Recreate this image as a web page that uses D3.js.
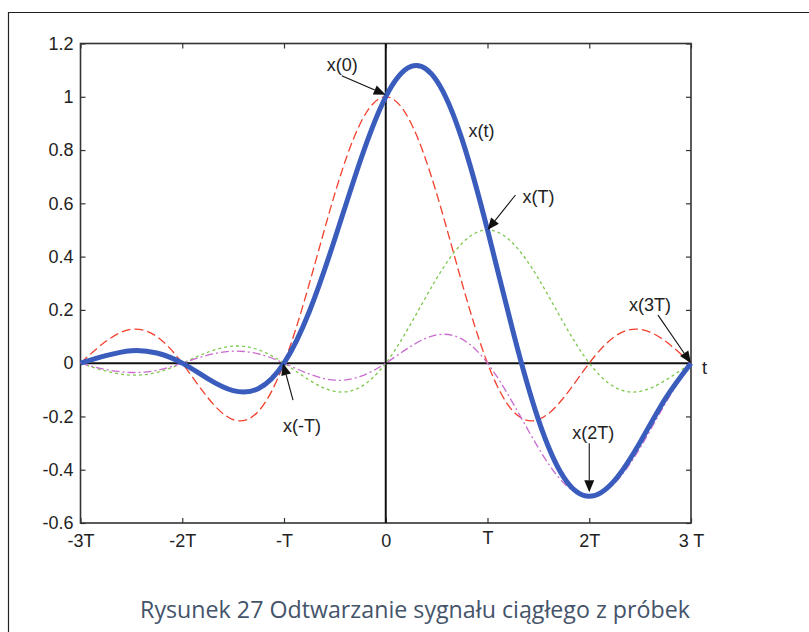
<!DOCTYPE html>
<html>
<head>
<meta charset="utf-8">
<script src="https://cdn.jsdelivr.net/npm/d3@7"></script>
<style>
  body { margin: 0; background: #fff; }
  svg { display: block; }
</style>
</head>
<body>
<div id="chart"></div>
<script>
// sample instants (in units of T) and the curves
var tSamples = [-3, -2.75, -2.5, -2.25, -2, -1.75, -1.5, -1.25, -1, -0.75, -0.5, -0.25, 0,
                0.25, 0.5, 0.75, 1, 1.25, 1.5, 1.75, 2, 2.25, 2.5, 2.75, 3];
// x(0) component, red dashed
var redValues = [0, 0.082, 0.127, 0.100, 0, -0.129, -0.212, -0.180, 0, 0.300, 0.637, 0.900, 1,
                 0.900, 0.637, 0.300, 0, -0.180, -0.212, -0.129, 0, 0.100, 0.127, 0.082, 0];
// x(T) component, green dotted
var greenValues = [0, -0.030, -0.045, -0.035, 0, 0.041, 0.064, 0.050, 0, -0.064, -0.106, -0.090, 0,
                   0.150, 0.318, 0.450, 0.5, 0.450, 0.318, 0.150, 0, -0.090, -0.106, -0.064, 0];
// x(2T) component, purple dash-dot
var purpleValues = [0, -0.024, -0.035, -0.027, 0, 0.030, 0.045, 0.035, 0, -0.041, -0.064, -0.050, 0,
                    0.064, 0.106, 0.090, 0, -0.150, -0.318, -0.450, -0.5, -0.450, -0.318, -0.150, 0];
// reconstructed x(t), thick blue
var blueValues = [0, 0.028, 0.047, 0.038, 0, -0.058, -0.103, -0.095, 0, 0.195, 0.467, 0.760, 1,
                  1.114, 1.061, 0.840, 0.5, 0.120, -0.212, -0.429, -0.5, -0.440, -0.297, -0.132, 0];

var xTicks = [-3, -2, -1, 0, 1, 2, 3];
var xTickLabels = ["-3T", "-2T", "-T", "0", "T", "2T", "3 T"];
var yTicks = [-0.6, -0.4, -0.2, 0, 0.2, 0.4, 0.6, 0.8, 1, 1.2];
var yTickLabels = ["-0.6", "-0.4", "-0.2", "0", "0.2", "0.4", "0.6", "0.8", "1", "1.2"];

var caption = "Rysunek 27 Odtwarzanie sygnału ciągłego z próbek";

var W = 809, H = 632;
var plotLeft = 80.5, plotRight = 691, plotTop = 43.5, plotBottom = 523;
var FONT = "'Liberation Sans', Arial, sans-serif";

var svg = d3.select("#chart").append("svg")
    .attr("width", W)
    .attr("height", H);

// page frame around the figure
svg.append("line").attr("x1", 8).attr("y1", 12.5).attr("x2", W).attr("y2", 12.5)
    .attr("stroke", "#222").attr("stroke-width", 1.2);
svg.append("line").attr("x1", 8.5).attr("y1", 12).attr("x2", 8.5).attr("y2", H)
    .attr("stroke", "#222").attr("stroke-width", 1.2);

var x = d3.scaleLinear().domain([-3, 3]).range([plotLeft, plotRight]);
var y = d3.scaleLinear().domain([-0.6, 1.2]).range([plotBottom, plotTop]);

function styleAxis(g){
    g.select(".domain").remove();
    g.selectAll(".tick line").attr("stroke", "#333").attr("stroke-width", 1.2);
    g.selectAll(".tick text").attr("fill", "#222")
        .style("font-family", FONT).style("font-size", "18px");
}

//ticks + labels
svg.append("g").attr("transform", "translate(" + plotLeft + ",0)")
    .call(d3.axisLeft(y).tickValues(yTicks).tickFormat(function(d, i){ return yTickLabels[i]; })
        .tickSizeInner(-5).tickSizeOuter(0).tickPadding(7))
    .call(styleAxis);
svg.append("g").attr("transform", "translate(" + plotRight + ",0)")
    .call(d3.axisRight(y).tickValues(yTicks).tickFormat("").tickSizeInner(-5).tickSizeOuter(0))
    .call(styleAxis);
var xAxisG = svg.append("g").attr("transform", "translate(0," + plotBottom + ")")
    .call(d3.axisBottom(x).tickValues(xTicks).tickFormat(function(d, i){ return xTickLabels[i]; })
        .tickSizeInner(-5).tickSizeOuter(0).tickPadding(11))
    .call(styleAxis);
svg.append("g").attr("transform", "translate(0," + plotTop + ")")
    .call(d3.axisTop(x).tickValues(xTicks).tickFormat("").tickSizeInner(-5).tickSizeOuter(0))
    .call(styleAxis);

// the "T" label sits a bit higher in the original
xAxisG.selectAll(".tick").filter(function(d){ return d === 1; }).select("text")
    .attr("y", 8);

// plot box
svg.append("rect")
    .attr("x", plotLeft).attr("y", plotTop)
    .attr("width", plotRight - plotLeft).attr("height", plotBottom - plotTop)
    .attr("fill", "none").attr("stroke", "#333").attr("stroke-width", 1.6);

// zero lines
svg.append("line").attr("x1", x(-3)).attr("x2", x(3)).attr("y1", y(0)).attr("y2", y(0))
    .attr("stroke", "#111").attr("stroke-width", 2);
svg.append("line").attr("x1", x(0)).attr("x2", x(0)).attr("y1", plotTop).attr("y2", plotBottom)
    .attr("stroke", "#111").attr("stroke-width", 2);

var line = d3.line()
    .x(function(d){ return x(d[0]); })
    .y(function(d){ return y(d[1]); })
    .curve(d3.curveNatural);

function pairs(vals){
    return tSamples.map(function(t, i){ return [t, vals[i]]; });
}

var series = [
    {vals: redValues, color: "#f2412e", width: 1.3, dash: "9,4"},
    {vals: greenValues, color: "#7ec84e", width: 1.3, dash: "3,3"},
    {vals: purpleValues, color: "#c96bcf", width: 1.3, dash: "8,3,2,3"},
    {vals: blueValues, color: "#3a5cbc", width: 5, dash: null}
];

series.forEach(function(s){
    svg.append("path")
        .datum(pairs(s.vals))
        .attr("d", line)
        .attr("fill", "none")
        .attr("stroke", s.color)
        .attr("stroke-width", s.width)
        .attr("stroke-dasharray", s.dash)
        .attr("stroke-linejoin", "round");
});

// annotations: anchor in data units, offsets in px
var notes = [
    {label: "x(0)",  t: 0,  v: 1,    tip: [0, -2],  tail: [-44, -21], text: [-59, -26]},
    {label: "x(T)",  t: 1,  v: 0.5,  tip: [0, 0],   tail: [28, -35],  text: [35, -27]},
    {label: "x(3T)", t: 3,  v: 0,    tip: [0, 0],   tail: [-33, -48], text: [-62, -52]},
    {label: "x(-T)", t: -1, v: 0,    tip: [-1, 0],  tail: [9, 37],    text: [-1, 69]},
    {label: "x(2T)", t: 2,  v: -0.5, tip: [0, -4],  tail: [0, -53],   text: [-17, -57]},
    {label: "x(t)",  t: 1,  v: 0.8,  tip: null,     tail: null,       text: [-19, -13]},
    {label: "t",     t: 3,  v: 0,    tip: null,     tail: null,       text: [11, 11]}
];

notes.forEach(function(n){
    var px = x(n.t), py = y(n.v);
    if(n.tip){
        var tx = px + n.tip[0], ty = py + n.tip[1];
        var sx = px + n.tail[0], sy = py + n.tail[1];
        var ang = Math.atan2(ty - sy, tx - sx);
        var len = 12, hw = 5;
        var bx = tx - len * Math.cos(ang), by = ty - len * Math.sin(ang);
        svg.append("line").attr("x1", sx).attr("y1", sy).attr("x2", bx).attr("y2", by)
            .attr("stroke", "#111").attr("stroke-width", 1.1);
        var pts = [
            [tx, ty],
            [bx + hw * Math.sin(ang), by - hw * Math.cos(ang)],
            [bx - hw * Math.sin(ang), by + hw * Math.cos(ang)]
        ];
        svg.append("polygon").attr("points", pts.map(function(p){ return p.join(","); }).join(" "))
            .attr("fill", "#111");
    }
    svg.append("text")
        .attr("x", px + n.text[0]).attr("y", py + n.text[1])
        .attr("fill", "#222")
        .style("font-family", FONT).style("font-size", "18px")
        .text(n.label);
});

// caption, sized to span the same width as in the original
var cap = svg.append("text")
    .attr("x", 415).attr("y", 618)
    .attr("text-anchor", "middle")
    .attr("fill", "#44546a")
    .style("font-family", "'Open Sans', 'Noto Sans', sans-serif")
    .style("font-size", "20px")
    .text(caption);
var capLen = cap.node().getComputedTextLength();
cap.style("font-size", (20 * 550 / capLen).toFixed(2) + "px");
</script>
</body>
</html>
